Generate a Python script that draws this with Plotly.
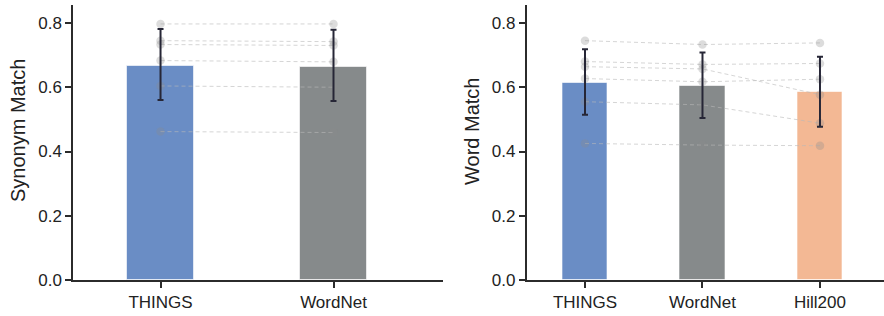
import plotly.graph_objects as go

# ---------------- data ----------------
syn_categories = ["THINGS", "WordNet"]
syn_means = [0.667, 0.664]
syn_err_hi = [0.781, 0.779]
syn_err_lo = [0.560, 0.557]
syn_things = [0.797, 0.745, 0.733, 0.683, 0.604, 0.462]
syn_wordnet = [0.797, 0.742, 0.730, 0.679, 0.600, 0.459]

word_categories = ["THINGS", "WordNet", "Hill200"]
word_means = [0.613, 0.603, 0.584]
word_err_hi = [0.718, 0.708, 0.695]
word_err_lo = [0.514, 0.504, 0.477]
word_things = [0.745, 0.680, 0.664, 0.627, 0.555, 0.425]
word_wordnet = [0.733, 0.671, 0.657, 0.617, 0.545, 0.420]
word_hill = [0.738, 0.674, 0.577, 0.625, 0.488, 0.418]

y_ticks = [0.0, 0.2, 0.4, 0.6, 0.8]

bar_colors = {"THINGS": "#6a8dc5", "WordNet": "#868a8b", "Hill200": "#f3b894"}

FONT = "Liberation Sans, Arial, sans-serif"
AXC = "#2b2b2b"

fig = go.Figure()


def add_panel(xa, ya, cats, means, hi, lo, per_cat):
    fig.add_trace(go.Bar(
        x=cats, y=means, width=0.39,
        marker=dict(color=[bar_colors[c] for c in cats],
                    line=dict(color="rgba(255,255,255,0.6)", width=1)),
        xaxis=xa, yaxis=ya, showlegend=False, hoverinfo="skip"))
    n_models = len(per_cat[0])
    for m in range(n_models):
        fig.add_trace(go.Scatter(
            x=cats, y=[vals[m] for vals in per_cat], mode="lines+markers",
            line=dict(color="rgba(185,185,185,0.6)", width=1, dash="4px,3px"),
            marker=dict(color="rgba(140,140,140,0.3)", size=8.5),
            xaxis=xa, yaxis=ya, showlegend=False, hoverinfo="skip"))
    fig.add_trace(go.Scatter(
        x=cats, y=means, mode="markers", marker=dict(size=0.1, opacity=0),
        error_y=dict(type="data", symmetric=False,
                     array=[h - m for h, m in zip(hi, means)],
                     arrayminus=[m - l for l, m in zip(lo, means)],
                     color="#262636", thickness=2, width=3),
        xaxis=xa, yaxis=ya, showlegend=False, hoverinfo="skip"))


add_panel("x", "y", syn_categories, syn_means, syn_err_hi, syn_err_lo,
          [syn_things, syn_wordnet])
add_panel("x2", "y2", word_categories, word_means, word_err_hi, word_err_lo,
          [word_things, word_wordnet, word_hill])

W, H = 884, 316
ydom = [(H - 280) / H, (H - 5) / H]

xcommon = dict(showline=True, linecolor=AXC, linewidth=1.5, ticks="outside",
               ticklen=6, tickwidth=1.5, tickcolor=AXC, showgrid=False,
               zeroline=False, automargin=False,
               tickfont=dict(family=FONT, size=17, color="#222"))
ycommon = dict(showline=True, linecolor=AXC, linewidth=1.5, ticks="outside",
               ticklen=6, tickwidth=1.5, tickcolor=AXC, showgrid=False,
               zeroline=False, automargin=False, range=[0, 0.856],
               tickvals=y_ticks, tickformat=".1f",
               tickfont=dict(family=FONT, size=17, color="#222"), domain=ydom)

fig.update_layout(
    width=W, height=H, margin=dict(l=0, r=0, t=0, b=0),
    paper_bgcolor="white", plot_bgcolor="white",
    bargap=0,
    xaxis=dict(xcommon, domain=[73 / W, 443 / W], range=[-0.506, 1.633],
               type="category", anchor="y"),
    yaxis=dict(ycommon, anchor="x"),
    xaxis2=dict(xcommon, domain=[526.5 / W, 1.0], range=[-0.498, 2.545],
                type="category", anchor="y2"),
    yaxis2=dict(ycommon, anchor="x2"),
    annotations=[
        dict(text="Synonym Match", x=18 / W, y=(H - 131) / H, xref="paper",
             yref="paper", textangle=-90, showarrow=False,
             xanchor="center", yanchor="middle",
             font=dict(family=FONT, size=20, color="#222")),
        dict(text="Word Match", x=472 / W, y=(H - 132) / H, xref="paper",
             yref="paper", textangle=-90, showarrow=False,
             xanchor="center", yanchor="middle",
             font=dict(family=FONT, size=20, color="#222")),
    ],
)

fig.write_html("out.html", config={"displayModeBar": False},
               post_script="document.body.style.margin='0';"
                           "document.body.style.padding='0';")
